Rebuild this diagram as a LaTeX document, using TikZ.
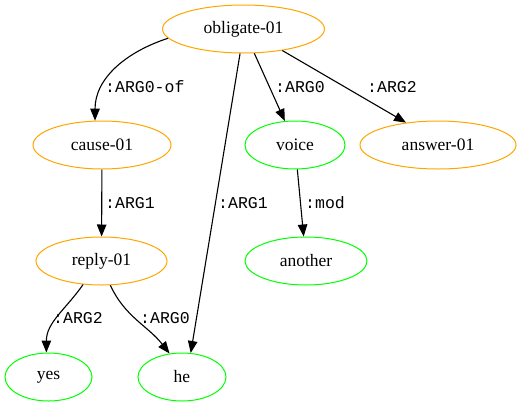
\documentclass[tikz,border=0pt]{standalone}
\usepackage{fontspec}
\setmainfont{Liberation Serif}
\newfontfamily\monof{Liberation Mono}
\usetikzlibrary{shapes.geometric,arrows.meta}
\definecolor{concept}{HTML}{FFA500}
\definecolor{leaf}{HTML}{00FF00}
\tikzset{
  amr/.style={ellipse, draw, line width=1pt, inner sep=0pt,
    minimum height=48pt, font=\fontsize{17.5}{17.5}\selectfont},
  frame/.style={amr, draw=concept},
  thing/.style={amr, draw=leaf},
  rel/.style={line width=1.1pt, -{Triangle[length=12pt,width=9.5pt]}},
  role/.style={anchor=west, inner sep=0pt, font=\monof\fontsize{16.5}{16.5}\selectfont}
}
\begin{document}
\begin{tikzpicture}[x=1pt,y=-1pt]
\useasboundingbox (0,0) rectangle (521,407);
% concepts
\node[frame, minimum width=162pt] (obl) at (243.5,29) {obligate-01};
\node[frame, minimum width=138pt] (cau) at (102,145) {cause-01};
\node[thing, minimum width=100pt] (voi) at (295,145) {voice};
\node[frame, minimum width=156pt] (ans) at (438,145) {answer-01};
\node[frame, minimum width=131pt] (rep) at (101.5,261) {reply-01};
\node[thing, minimum width=122pt] (ano) at (306,261) {another};
\node[thing, minimum width=87pt]  (yes) at (48.5,377) {yes};
\node[thing, minimum width=88pt]  (he)  at (182,377) {he};
% relations
\draw[rel] (obl.187) to[out=198,in=90] (cau.106);
\draw[rel] (obl.262) -- (he.70);
\draw[rel] (obl.294) -- (voi.113);
\draw[rel] (obl.331.5) -- (ans.145);
\draw[rel] (cau) -- (rep);
\draw[rel] (voi) -- (ano);
\draw[rel] (rep.232) to[out=235,in=90] (yes.95);
\draw[rel] (rep.290) to[out=-65,in=128] (he.118);
% role labels
\node[role] (l1) at (105,87) {:ARG0-of};
\node[role] (l2) at (218,203) {:ARG1};
\node[role] (l3) at (275,87) {:ARG0};
\node[role] (l4) at (367,87) {:ARG2};
\node[role] (l5) at (105,203) {:ARG1};
\node[role] (l6) at (305,203) {:mod};
\node[role] (l7) at (53,318) {:ARG2};
\node[role] (l8) at (140,318) {:ARG0};
\end{tikzpicture}
\end{document}
